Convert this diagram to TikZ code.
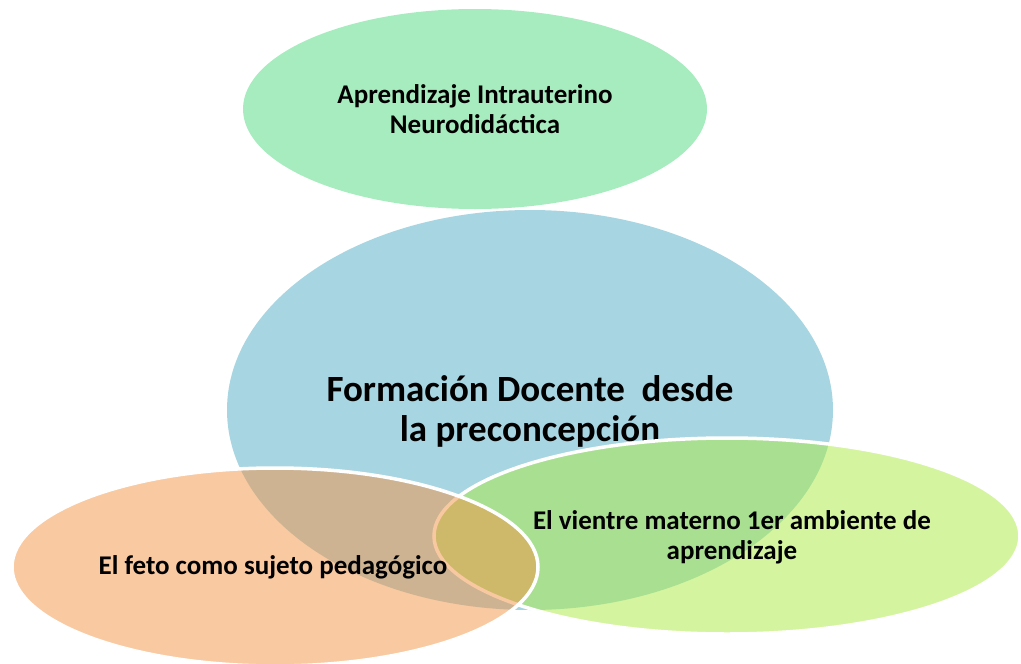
\documentclass[tikz,border=0pt]{standalone}
\usepackage{fontspec}
\setmainfont{Carlito}
\usetikzlibrary{shapes.geometric}
\definecolor{cGreen}{HTML}{A6ECBE}
\definecolor{cBlue}{HTML}{A7D5E2}
\definecolor{cOrange}{RGB}{243,147,67}
\definecolor{cLime}{RGB}{171,233,65}
\begin{document}
\begin{tikzpicture}[x=1pt,y=-1pt,
  blob/.style={ellipse, inner sep=0pt, align=center, text=black, font=\bfseries\fontsize{27}{30}\selectfont},
  overlay blob/.style={blob, fill opacity=0.5, text opacity=1, draw=white, line width=3.5pt}]
\useasboundingbox (0,0) rectangle (1021,664);
\node[blob, fill=cGreen, minimum width=464pt, minimum height=200pt] (top) at (475,109)
  {Aprendizaje Intrauterino\\Neurodidáctica};
\node[blob, fill=cBlue, minimum width=606pt, minimum height=400pt] (center) at (530,410) {};
\node[font=\bfseries\fontsize{37}{40}\selectfont, align=center] (ctext) at (530,411)
  {Formación Docente\ \ desde\\la preconcepción};
\node[overlay blob, fill=cLime, minimum width=586pt, minimum height=196pt] (right) at (727,536) {};
\node[overlay blob, fill=cOrange, minimum width=526pt, minimum height=198pt] (left) at (275,567) {};
\node[blob] (rtext) at (732,537) {El vientre materno 1er ambiente de\\aprendizaje};
\node[blob] (ltext) at (273,567) {El feto como sujeto pedagógico};
\end{tikzpicture}
\end{document}
